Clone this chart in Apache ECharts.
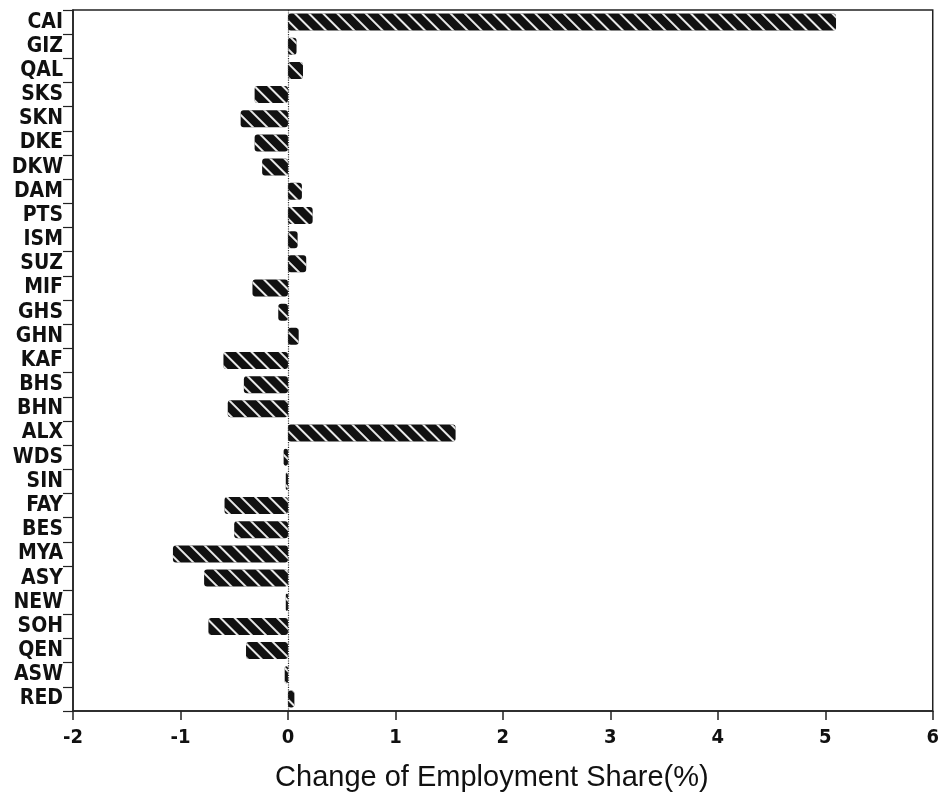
<!DOCTYPE html>
<html>
<head>
<meta charset="utf-8">
<script src="https://cdn.jsdelivr.net/npm/echarts@6/dist/echarts.min.js"></script>
<style>html,body{margin:0;padding:0;background:#fff}#chart{width:942px;height:802px}</style>
</head>
<body>
<div id="chart"></div>
<script>
const categories = ['CAI','GIZ','QAL','SKS','SKN','DKE','DKW','DAM','PTS','ISM','SUZ','MIF','GHS','GHN','KAF','BHS','BHN','ALX','WDS','SIN','FAY','BES','MYA','ASY','NEW','SOH','QEN','ASW','RED'];
const values = [5.10,0.08,0.14,-0.31,-0.44,-0.31,-0.24,0.13,0.23,0.09,0.17,-0.33,-0.09,0.10,-0.60,-0.41,-0.56,1.56,-0.04,-0.02,-0.59,-0.50,-1.07,-0.78,-0.02,-0.74,-0.39,-0.03,0.06];
const xTicks = [-2,-1,0,1,2,3,4,5,6];
const axisTitle = 'Change of Employment Share(%)';

const chart = echarts.init(document.getElementById('chart'), null, {renderer:'canvas'});
const font = "'DejaVu Sans Condensed','Liberation Sans',Arial,sans-serif";
chart.setOption({
  animation:false,
  backgroundColor:'#fff',
  grid:{left:73,right:7,top:10,bottom:91,show:true,borderColor:'#222',borderWidth:1.5,backgroundColor:'transparent'},
  xAxis:{
    type:'value', min:xTicks[0], max:xTicks[xTicks.length-1], interval:1,
    axisLine:{show:true,lineStyle:{color:'#222',width:1.5}},
    axisTick:{show:true,length:9,lineStyle:{color:'#222',width:1.5}},
    axisLabel:{color:'#111',fontFamily:font,fontWeight:'bold',fontSize:20,margin:17},
    splitLine:{show:false},
    name:axisTitle, nameLocation:'middle', nameGap:52,
    nameTextStyle:{color:'#111',fontFamily:"'Liberation Sans',Arial,sans-serif",fontSize:29,padding:[0,22,0,0]}
  },
  yAxis:{
    type:'category', data:categories, inverse:true,
    axisLine:{show:true,onZero:false,lineStyle:{color:'#222',width:1.5}},
    axisTick:{show:true,length:10,alignWithLabel:false,interval:0,lineStyle:{color:'#222',width:1.2}},
    axisLabel:{interval:0,color:'#111',fontFamily:font,fontWeight:'bold',fontSize:21,margin:10}
  },
  series:[{
    type:'bar', data:values, barWidth:17,
    itemStyle:{color:'#111',borderRadius:3,
      decal:{symbol:'rect',symbolSize:1,color:'rgba(255,255,255,0.9)',dashArrayX:[1,0],dashArrayY:[1.5,8],rotation:Math.PI/4}},
    markLine:{silent:true,symbol:'none',label:{show:false},
      lineStyle:{color:'#333',type:'dotted',width:1.2},data:[{xAxis:0}]}
  }]
});
</script>
</body>
</html>
